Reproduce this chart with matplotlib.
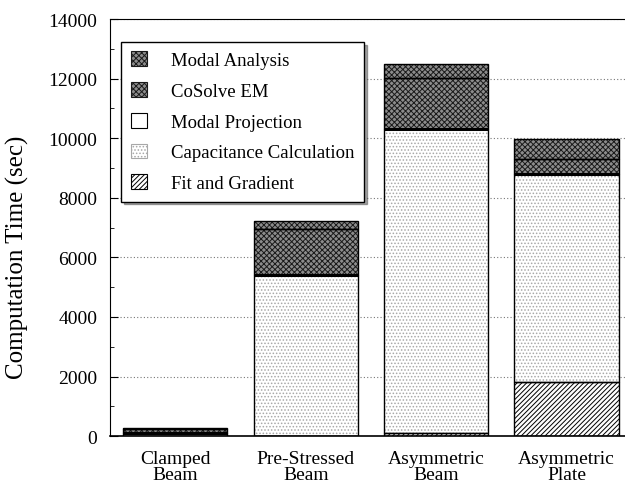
import numpy as np
import matplotlib.pyplot as plt
from matplotlib.patches import Patch

plt.rcParams['font.family'] = ['Liberation Serif', 'DejaVu Serif']

# --- datos ---
casos = ['Clamped\nBeam', 'Pre-Stressed\nBeam', 'Asymmetric\nBeam', 'Asymmetric\nPlate']
fit_gradient = [0, 0, 100, 1810]
capacitancia = [100, 5400, 10220, 7000]
modal_proj = [0, 0, 0, 0]
cosolve = [150, 1550, 1700, 500]
modal_analysis = [30, 270, 470, 670]

# estilos por componente (de abajo hacia arriba)
capas = [
    ('Fit and Gradient', fit_gradient, 'white', 'black', '///////'),
    ('Capacitance Calculation', capacitancia, 'white', '#a8a8a8', '.....'),
    ('Modal Projection', modal_proj, 'white', 'black', ''),
    ('CoSolve EM', cosolve, '#8c8c8c', '#1a1a1a', 'xxxxxx'),
    ('Modal Analysis', modal_analysis, '#8c8c8c', '#1a1a1a', 'xxxxxx'),
]

fig = plt.figure(figsize=(6.25, 4.89), dpi=100)
ax = fig.add_axes([0.176, 0.106, 0.835, 0.853])

x = np.arange(len(casos))
ancho = 0.8
base = np.zeros(len(casos))
plt.rcParams['hatch.linewidth'] = 0.7
for nombre, vals, fc, hc, hatch in capas:
    vals = np.array(vals, dtype=float)
    ax.bar(x, vals, ancho, bottom=base, color=fc, edgecolor=hc, hatch=hatch,
           linewidth=0, zorder=2)
    ax.bar(x, vals, ancho, bottom=base, fill=False, edgecolor='black',
           linewidth=1.0, zorder=3)
    base += vals
    if nombre == 'Capacitance Calculation':
        # linea gruesa en el tope del calculo de capacitancia
        ax.hlines(base, x - ancho / 2, x + ancho / 2, colors='black',
                  linewidth=2.2, zorder=4)

ax.set_xlim(-0.5, 3.5)
ax.set_ylim(0, 14000)
ax.set_yticks(np.arange(0, 14001, 2000))
ax.set_yticks(np.arange(1000, 14000, 2000), minor=True)
ax.tick_params(axis='y', direction='in', length=6, labelsize=14, width=0.8, pad=9)
ax.tick_params(axis='y', which='minor', direction='in', length=3)
ax.set_xticks(x)
ax.set_xticklabels(casos, fontsize=14, linespacing=0.9)
ax.tick_params(axis='x', length=0, pad=10)
ax.set_ylabel('Computation Time (sec)', fontsize=18)
ax.yaxis.set_label_coords(-0.155, 0.43)
ax.yaxis.grid(True, linestyle=(0, (1, 2)), color='#777777', linewidth=0.8, zorder=0)
ax.set_axisbelow(True)
ax.spines['right'].set_visible(False)
ax.spines['bottom'].set_linewidth(1.2)

# leyenda
handles = []
for nombre, vals, fc, hc, hatch in capas[::-1]:
    handles.append(Patch(facecolor=fc, edgecolor=hc, hatch=hatch, linewidth=0.8))
etiquetas = [c[0] for c in capas[::-1]]
leg = ax.legend(handles, etiquetas, loc='upper left', bbox_to_anchor=(0.022, 0.945),
                fontsize=13.5, frameon=True, fancybox=False, shadow=True,
                handlelength=0.85, handleheight=0.85, labelspacing=0.68,
                handletextpad=1.3, borderpad=0.5, borderaxespad=0)
leg.get_frame().set_edgecolor('black')
leg.get_frame().set_linewidth(1.0)

plt.savefig('out.png', dpi=100)
